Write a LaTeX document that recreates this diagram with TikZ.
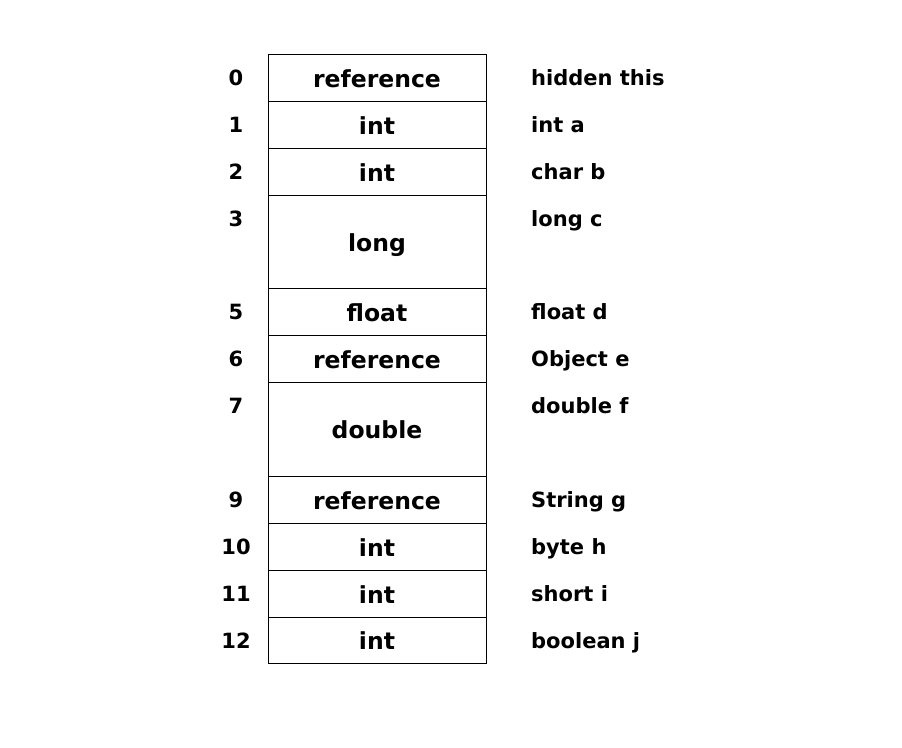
\documentclass[tikz,border=0pt]{standalone}
\usepackage{fontspec}
\setmainfont{DejaVu Sans}
\usetikzlibrary{calc}

\begin{document}
\begin{tikzpicture}[x=1pt,y=-1pt,
    slot/.style={draw,line width=1pt,minimum width=218pt,inner sep=0pt},
    word/.style={anchor=base,inner sep=0pt,font=\bfseries\fontsize{23.5}{23.5}\selectfont},
    idx/.style={anchor=base,inner sep=0pt,font=\bfseries\fontsize{21}{21}\selectfont},
    var/.style={anchor=base west,inner sep=0pt,font=\bfseries\fontsize{21}{21}\selectfont}]
    \useasboundingbox (0,0) rectangle (902,747);
    \foreach \i/\y/\h/\t/\v in {0/54/47/reference/hidden this,1/101/47/int/int a,2/148/47/int/char b,
        3/195/93/long/long c,5/288/47/float/float d,6/335/47/reference/Object e,7/382/94/double/double f,
        9/476/47/reference/String g,10/523/47/int/byte h,11/570/47/int/short i,12/617/46/int/boolean j} {
        \node[slot,minimum height=\h pt] (s\i) at (377,\y+\h/2) {};
        \node[word] (t\i) at ($(s\i.center)+(0,9.5)$) {\t};
        \node[idx] (n\i) at (236,\y+31) {\i};
        \node[var] (v\i) at (531,\y+31) {\v};}
\end{tikzpicture}
\end{document}
